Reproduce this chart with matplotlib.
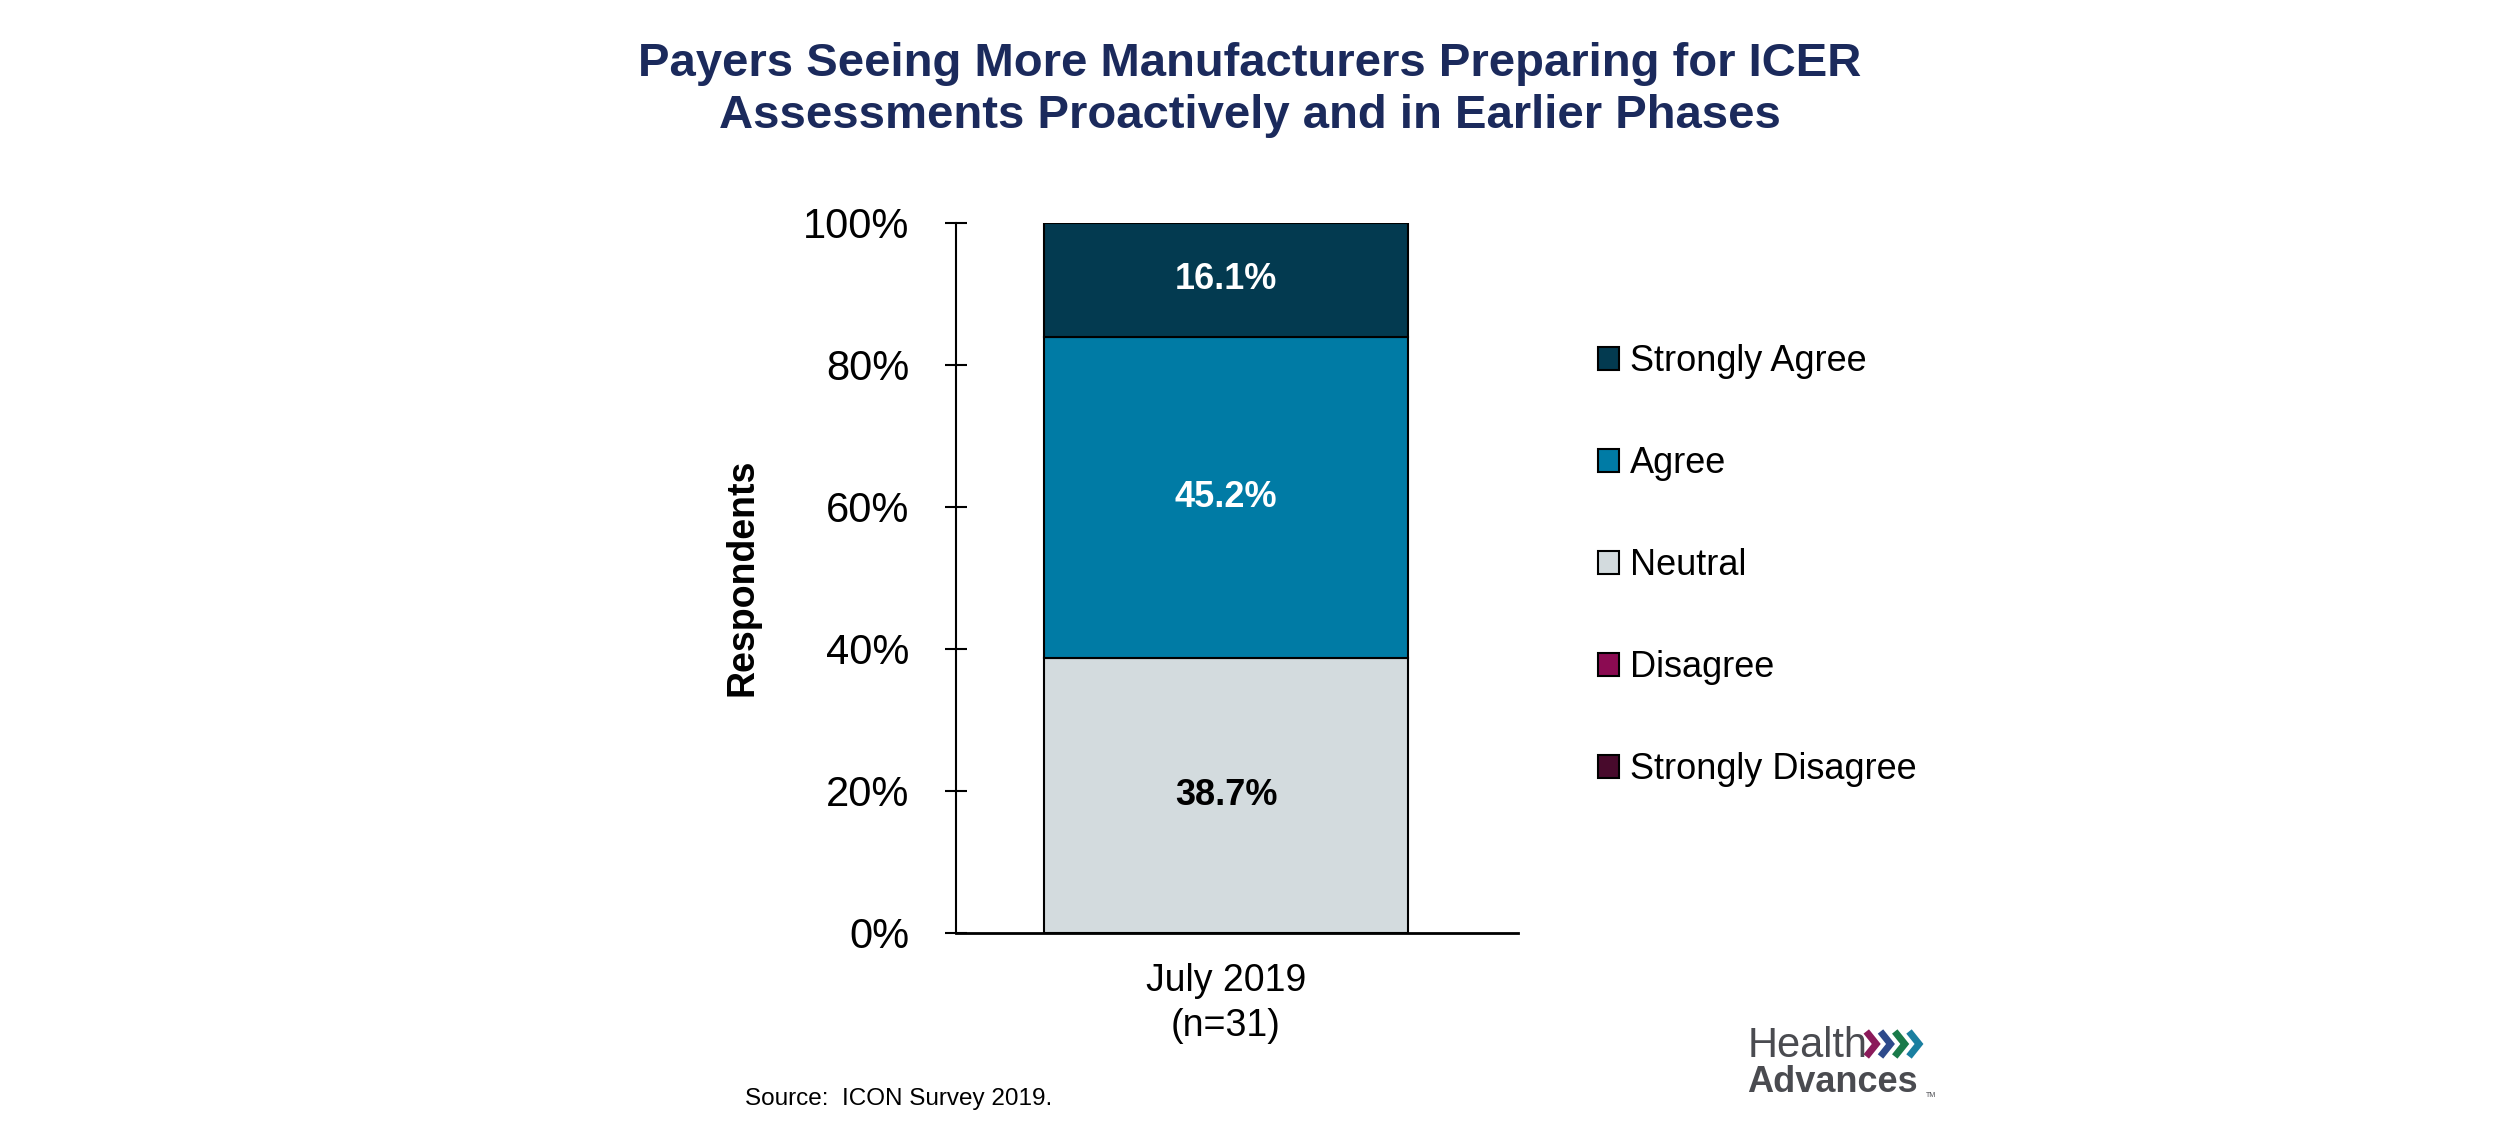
import matplotlib.pyplot as plt
from matplotlib.patches import Patch

plt.rcParams['font.family'] = ['Liberation Sans', 'DejaVu Sans']

# Survey data (bottom to top of stack)
categories = ['July 2019\n(n=31)']
responses = ['Strongly Disagree', 'Disagree', 'Neutral', 'Agree', 'Strongly Agree']
shares = [0.0, 0.0, 38.7, 45.2, 16.1]
colors = ['#480a2c', '#8b0b52', '#d3dbde', '#007ba5', '#033a50']
label_colors = ['white', 'white', 'black', 'white', 'white']

fig = plt.figure(figsize=(25, 11.36), dpi=100)
ax = fig.add_axes([0.3825, 0.179, 0.2245, 0.625])

bottom = 0
for resp, val, col, lc in zip(responses, shares, colors, label_colors):
    ax.bar(0, val, width=1.0, bottom=bottom, color=col, edgecolor='black',
           linewidth=1.5, label=resp)
    if val > 0:
        ax.text(0, bottom + val / 2, f'{val:.1f}%', ha='center', va='center',
                fontsize=26, fontweight='bold', color=lc)
    bottom += val

ax.set_xlim(-0.742, 0.802)
ax.set_ylim(0, 100)
ax.set_yticks([0, 20, 40, 60, 80, 100])
ax.set_yticklabels([f'{t}%' for t in [0, 20, 40, 60, 80, 100]], fontsize=30)
ax.set_xticks([0])
ax.set_xticklabels(categories, fontsize=27, linespacing=1.3)
ax.tick_params(axis='x', length=0, pad=22)
ax.tick_params(axis='y', direction='inout', length=16, width=1.5, pad=26)
for s in ['top', 'right']:
    ax.spines[s].set_visible(False)
ax.spines['left'].set_linewidth(1.5)
ax.spines['bottom'].set_linewidth(2)
ax.set_ylabel('Respondents', fontsize=27, fontweight='bold', labelpad=30)

# legend, top to bottom
handles = [Patch(facecolor=c, edgecolor='black', linewidth=1.5, label=r)
           for r, c in zip(responses, colors)][::-1]
fig.legend(handles=handles, loc='upper left', bbox_to_anchor=(0.626, 0.726),
           frameon=False, fontsize=26, labelspacing=1.86, handlelength=0.6,
           handleheight=0.6, handletextpad=0.3)

fig.text(0.5, 0.921, 'Payers Seeing More Manufacturers Preparing for ICER\n'
         'Assessments Proactively and in Earlier Phases', ha='center', va='center',
         fontsize=34, fontweight='bold', color='#1b2a5c', linespacing=1.24)

fig.text(0.298, 0.033, 'Source:  ICON Survey 2019.', fontsize=17.5, va='center')

# logo
fig.text(0.699, 0.079, 'Health', fontsize=30, color='#4a4b50', va='center')
fig.text(0.699, 0.047, 'Advances', fontsize=26, fontweight='bold', color='#4a4b50', va='center')
fig.text(0.7705, 0.036, 'TM', fontsize=5, color='#4a4b50', va='center')
for i, c in enumerate(['#8b1a5a', '#2e4a8b', '#1a7a4a', '#1a7fa0']):
    x0 = 0.7465 + i * 0.0057
    fig.lines.append(plt.Line2D([x0, x0 + 0.004, x0], [0.092, 0.081, 0.070],
                                transform=fig.transFigure, color=c, linewidth=5,
                                solid_capstyle='butt', solid_joinstyle='miter'))

fig.savefig('out.png', dpi=100)
